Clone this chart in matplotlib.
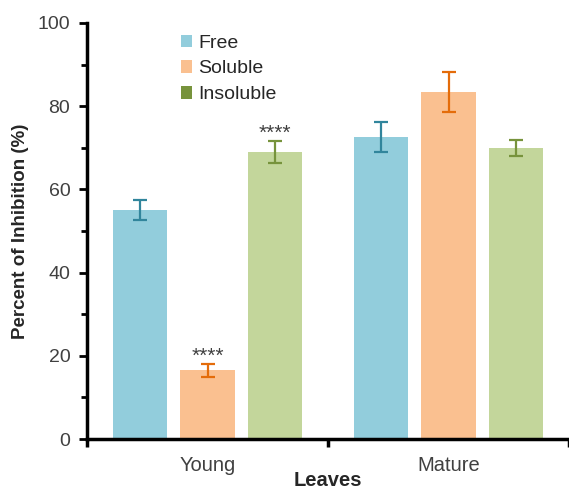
import matplotlib
matplotlib.use("Agg")
import matplotlib.pyplot as plt
import numpy as np
from matplotlib.patches import Patch
from matplotlib.ticker import MultipleLocator

plt.rcParams['font.family'] = ['Liberation Sans', 'DejaVu Sans']

categories = ["Young", "Mature"]
series = ["Free", "Soluble", "Insoluble"]
values = {
    "Free": [55.0, 72.5],
    "Soluble": [16.5, 83.5],
    "Insoluble": [69.0, 70.0],
}
errors = {
    "Free": [2.4, 3.6],
    "Soluble": [1.5, 4.8],
    "Insoluble": [2.6, 1.9],
}
stars = {
    "Soluble": ["****", ""],
    "Insoluble": ["****", ""],
}
bar_colors = {"Free": "#92CDDC", "Soluble": "#FAC090", "Insoluble": "#C3D69B"}
err_colors = {"Free": "#31859C", "Soluble": "#E46C0A", "Insoluble": "#77933C"}
legend_colors = {"Free": "#92CDDC", "Soluble": "#FAC090", "Insoluble": "#77933C"}

fig = plt.figure(figsize=(5.69, 4.94), dpi=100)
ax = fig.add_axes([87/569, 55/494, 482/569, 416/494])

x = np.arange(len(categories))
offset = 0.28
width = 0.228
for i, s in enumerate(series):
    pos = x + (i - 1) * offset
    ax.bar(pos, values[s], width, color=bar_colors[s], zorder=2)
    ax.errorbar(pos, values[s], yerr=errors[s], fmt='none', ecolor=err_colors[s],
                elinewidth=1.6, capsize=5, capthick=1.6, zorder=3)
    if s in stars:
        for p, v, e, t in zip(pos, values[s], errors[s], stars[s]):
            if t:
                ax.text(p, v + e + 1.8, t, ha='center', va='center', fontsize=15,
                        color='#404040', zorder=4)

ax.set_xlim(-0.5, 1.5)
ax.set_ylim(0, 100)
ax.yaxis.set_major_locator(MultipleLocator(20))
ax.yaxis.set_minor_locator(MultipleLocator(10))
ax.set_xticks([-0.5, 0.5, 1.5])
ax.set_xticklabels([])
ax.set_xticks(x, minor=True)
ax.set_xticklabels(categories, minor=True)
ax.tick_params(axis='x', which='minor', length=0, pad=12, labelsize=14.5, labelcolor='#404040')
ax.tick_params(axis='x', which='major', length=6, width=2.5, direction='out')
ax.tick_params(axis='y', which='major', length=6, width=2, direction='out', labelsize=14,
               labelcolor='#404040', pad=6)
ax.tick_params(axis='y', which='minor', length=4, width=2, direction='out')

for sp in ['top', 'right']:
    ax.spines[sp].set_visible(False)
for sp in ['left', 'bottom']:
    ax.spines[sp].set_linewidth(2.5)

ax.set_ylabel("Percent of Inhibition (%)", fontsize=13.5, fontweight='bold', color='#262626', labelpad=6)
ax.set_xlabel("Leaves", fontsize=14.5, fontweight='bold', color='#262626', labelpad=-3)

handles = [Patch(facecolor=legend_colors[s], edgecolor='none', label=s) for s in series]
ax.legend(handles=handles, loc='upper left', bbox_to_anchor=(0.17, 1.0), frameon=False,
          fontsize=14, handlelength=0.6, handleheight=0.6, handletextpad=0.3,
          labelspacing=0.45, labelcolor='#262626', borderaxespad=0.2)

fig.savefig("out.png", dpi=100)
